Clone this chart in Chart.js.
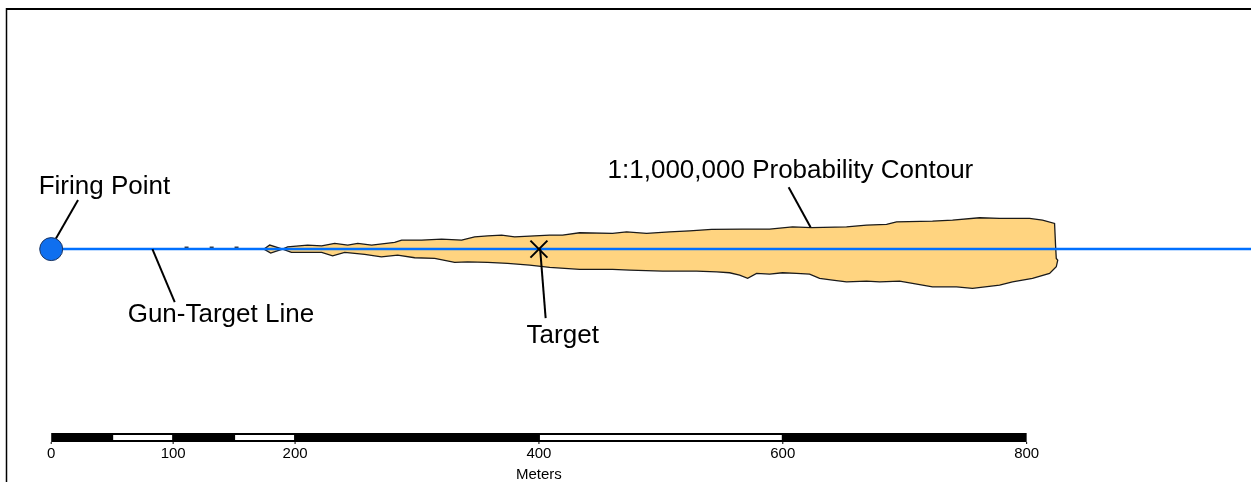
<!DOCTYPE html>
<html>
<head>
<meta charset="utf-8">
<title>Firing fan</title>
<script src="https://cdn.jsdelivr.net/npm/chart.js@4.4.1/dist/chart.umd.min.js"></script>
<style>
  html, body { margin: 0; padding: 0; background: #fff; }
  #wrap { width: 1251px; height: 482px; }
</style>
</head>
<body>
<div id="wrap"><canvas id="fanChart" width="1251" height="482"></canvas></div>
<script>
// Contour outline: downrange (m) and cross-range offset (m), traced from the tip
const contourRange = [
  174.5, 179.2, 189.8, 193.9, 210.3, 221.8, 232.5, 243.2, 251.4, 262.8,
  281.7, 287.4, 303.8, 320.2, 336.6, 347.3, 358.0, 369.4, 380.1, 392.4,
  408.8, 419.4, 433.4, 460.4, 471.9, 488.3, 507.2, 523.6, 541.6, 567.0,
  589.2, 608.0, 623.6, 652.3, 668.7, 685.1, 693.3, 722.8, 739.2, 761.4,
  777.8, 802.4, 813.0, 822.9, 823.7, 824.3, 825.5, 824.3, 818.8, 804.8,
  788.4, 777.8, 755.6, 742.5, 722.8, 706.4, 695.8, 679.4, 668.7, 652.3,
  640.8, 630.2, 622.0, 611.3, 599.8, 589.2, 578.5, 571.2, 564.6, 556.4,
  545.8, 529.3, 501.5, 474.4, 460.4, 433.4, 408.8, 392.4, 374.3, 358.0,
  341.6, 330.9, 314.5, 298.1, 284.1, 270.8, 257.1, 240.7, 230.8, 221.8,
  197.0, 189.8, 184.7, 180.0, 174.5
];
const contourOffset = [
  0, 3.3, 0, 1.9, 3.3, 2.7, 4.7, 3.3, 4.7, 3.3,
  5.5, 7.4, 7.4, 8.2, 7.4, 10.1, 10.9, 11.5, 10.1, 10.7,
  11.5, 11.5, 13.4, 12.9, 14.2, 12.9, 14.2, 15.0, 16.2, 16.4,
  16.4, 18.3, 17.6, 18.3, 19.7, 20.3, 22.4, 23.0, 23.8, 25.7,
  25.2, 25.2, 23.8, 21.1, 3.3, -7.6, -9.0, -14.5, -19.9, -24.0,
  -26.8, -29.5, -32.2, -30.9, -30.9, -28.1, -26.2, -26.8, -26.2, -26.8,
  -25.4, -24.0, -20.5, -19.9, -19.4, -20.5, -19.9, -24.0, -21.3, -19.4,
  -18.6, -18.0, -18.0, -17.2, -16.6, -16.6, -15.0, -13.1, -11.7, -10.9,
  -10.4, -10.9, -7.6, -7.1, -4.9, -6.3, -4.3, -2.7, -5.5, -2.7,
  -2.7, 0, -1.6, -3.3, 0
];
// small contour islands ahead of the main body
const islandRange = [111, 131.6, 152];
const islandOffset = [1.5, 1.5, 1.5];

const firingPoint = [0, 0];
const targetPoint = [400, 0];
const gunTargetRange = [0, 1000];

// scale bar
const scaleBreaks = [0, 50, 100, 150, 200, 400, 600, 800];
const scaleTicks = [0, 100, 200, 400, 600, 800];
const scaleTitle = 'Meters';

// callouts: text, feature end of leader, text end of leader, text anchor (m)
const calloutText = ['Firing Point', 'Gun-Target Line', 'Target', '1:1,000,000 Probability Contour'];
const calloutFrom = [[0, 2], [83, 0], [401, 0], [622.8, 18]];
const calloutTo = [[22, 40.2], [101.3, -43.5], [405.5, -56.6], [604.8, 50.8]];
const calloutAnchor = [[-10.3, 45.1], [62.7, -59.9], [389.9, -77.1], [456.3, 58.2]];

const FONT = "'Liberation Sans', Arial, sans-serif";

const pts = (xs, ys) => xs.map((x, i) => ({ x: x, y: ys[i] }));

const leaderSets = calloutFrom.map((p, i) => ({
  data: [{ x: p[0], y: p[1] }, { x: calloutTo[i][0], y: calloutTo[i][1] }],
  showLine: true,
  borderColor: '#000',
  borderWidth: 2,
  pointRadius: 0,
  order: 3
}));

// frame, callout text and the scale bar
const mapDecor = {
  id: 'mapDecor',
  afterDraw(chart) {
    const { ctx, scales: { x, y } } = chart;
    ctx.save();

    ctx.strokeStyle = '#000';
    ctx.lineWidth = 2;
    ctx.beginPath();
    ctx.moveTo(6, 9);
    ctx.lineTo(chart.width, 9);
    ctx.stroke();
    ctx.lineWidth = 1.5;
    ctx.beginPath();
    ctx.moveTo(6.5, 8);
    ctx.lineTo(6.5, chart.height);
    ctx.stroke();

    ctx.fillStyle = '#000';
    ctx.font = '26px ' + FONT;
    ctx.textAlign = 'left';
    ctx.textBaseline = 'alphabetic';
    calloutText.forEach((t, i) => {
      ctx.fillText(t, x.getPixelForValue(calloutAnchor[i][0]), y.getPixelForValue(calloutAnchor[i][1]));
    });

    const top = 433, h = 9;
    const x0 = x.getPixelForValue(scaleBreaks[0]);
    const x1 = x.getPixelForValue(scaleBreaks[scaleBreaks.length - 1]);
    ctx.fillStyle = '#000';
    ctx.fillRect(x0, top, x1 - x0, h);
    ctx.fillStyle = '#fff';
    for (let i = 1; i < scaleBreaks.length - 1; i += 2) {
      const a = x.getPixelForValue(scaleBreaks[i]);
      const b = x.getPixelForValue(scaleBreaks[i + 1]);
      ctx.fillRect(a + 1, top + 2, b - a - 2, h - 4);
    }
    ctx.fillStyle = '#000';
    ctx.font = '15px ' + FONT;
    ctx.textAlign = 'center';
    ctx.textBaseline = 'middle';
    scaleTicks.forEach(v => {
      const px = x.getPixelForValue(v);
      ctx.fillRect(px - 0.5, top + h, 1, 2);
      ctx.fillText(String(v), px, 454);
    });
    ctx.font = '15px ' + FONT;
    ctx.fillText(scaleTitle, x.getPixelForValue(400), 475);

    ctx.restore();
  }
};

new Chart(document.getElementById('fanChart'), {
  type: 'scatter',
  data: {
    datasets: [
      {
        data: pts(contourRange, contourOffset),
        showLine: true,
        fill: 'shape',
        backgroundColor: '#FFD480',
        borderColor: '#1a1a1a',
        borderWidth: 1.3,
        pointRadius: 0,
        tension: 0,
        order: 6
      },
      {
        data: pts(islandRange, islandOffset),
        pointStyle: 'line',
        pointRadius: 2,
        borderColor: '#333',
        borderWidth: 1.5,
        order: 5
      },
      {
        data: pts(gunTargetRange, [0, 0]),
        showLine: true,
        borderColor: '#0070FF',
        borderWidth: 2.5,
        pointRadius: 0,
        order: 4
      },
      ...leaderSets,
      {
        data: [{ x: targetPoint[0], y: targetPoint[1] }],
        pointStyle: 'crossRot',
        pointRadius: 12,
        borderColor: '#000',
        borderWidth: 2,
        order: 2
      },
      {
        data: [{ x: firingPoint[0], y: firingPoint[1] }],
        pointStyle: 'circle',
        pointRadius: 11.5,
        backgroundColor: '#0F6FEF',
        borderColor: '#1d3560',
        borderWidth: 1,
        order: 1
      }
    ]
  },
  options: {
    responsive: false,
    animation: false,
    events: [],
    layout: { padding: 0, autoPadding: false },
    plugins: { legend: { display: false }, tooltip: { enabled: false } },
    scales: {
      x: { type: 'linear', min: -42, max: 984, display: false },
      y: { type: 'linear', min: -191, max: 204.3, display: false }
    }
  },
  plugins: [mapDecor]
});
</script>
</body>
</html>
